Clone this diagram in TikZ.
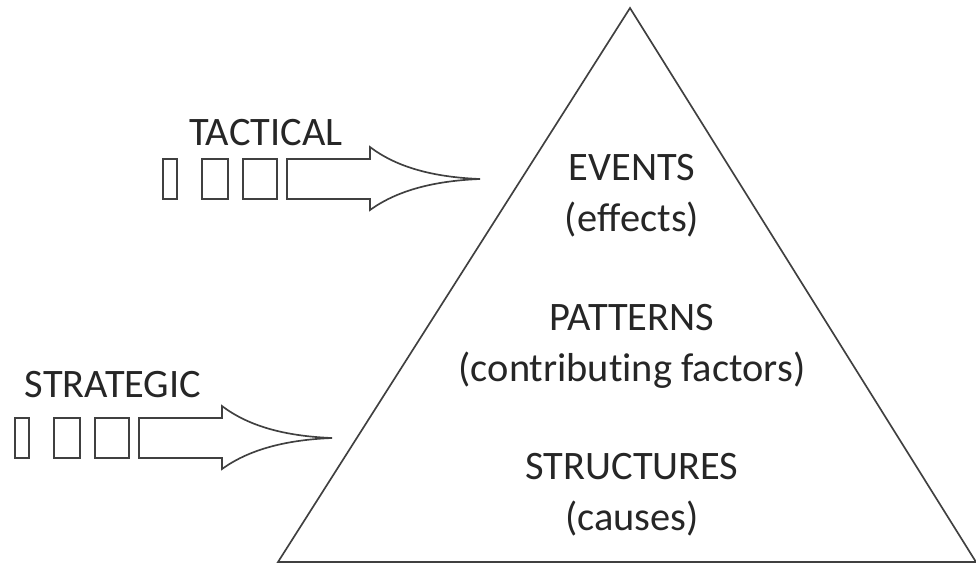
\documentclass[tikz,border=0pt]{standalone}
\usepackage{fontspec}
\setmainfont{Carlito}[Ligatures=NoCommon]

\begin{document}
\begin{tikzpicture}[x=0.02cm,y=-0.02cm,line width=0.95pt,
  lbl/.style={anchor=base,font=\fontsize{23}{28}\selectfont,text=black!85}]
\useasboundingbox (0,0) rectangle (976,565);

% pyramid
\draw[draw=black!75] (630,8) -- (976,562) -- (278,562) -- cycle;

\node[lbl] (events) at (632,180) {EVENTS};
\node[lbl] (effects) at (632,231) {(effects)};
\node[lbl] (patterns) at (632,330) {PATTERNS};
\node[lbl] (factors) at (632,381) {(contributing factors)};
\node[lbl] (structures) at (632,479) {STRUCTURES};
\node[lbl] (causes) at (632,530) {(causes)};

\node[lbl] (tactical) at (266,145) {TACTICAL};
\node[lbl] (strategic) at (113,397) {STRATEGIC};

% the two block arrows
\foreach \dx/\dy in {0/0,-148/259} {
\begin{scope}[shift={(\dx,\dy)},draw=black!75]
\draw (163,159) rectangle (177,199);
\draw (202,159) rectangle (228,199);
\draw (243,159) rectangle (277,199);
\draw (287,159) -- (370,159) -- (370,147)
  .. controls (395,166) and (430,177) .. (480,179)
  .. controls (430,181) and (395,192) .. (370,210)
  -- (370,199) -- (287,199) -- cycle;
\end{scope}
}
\end{tikzpicture}
\end{document}
